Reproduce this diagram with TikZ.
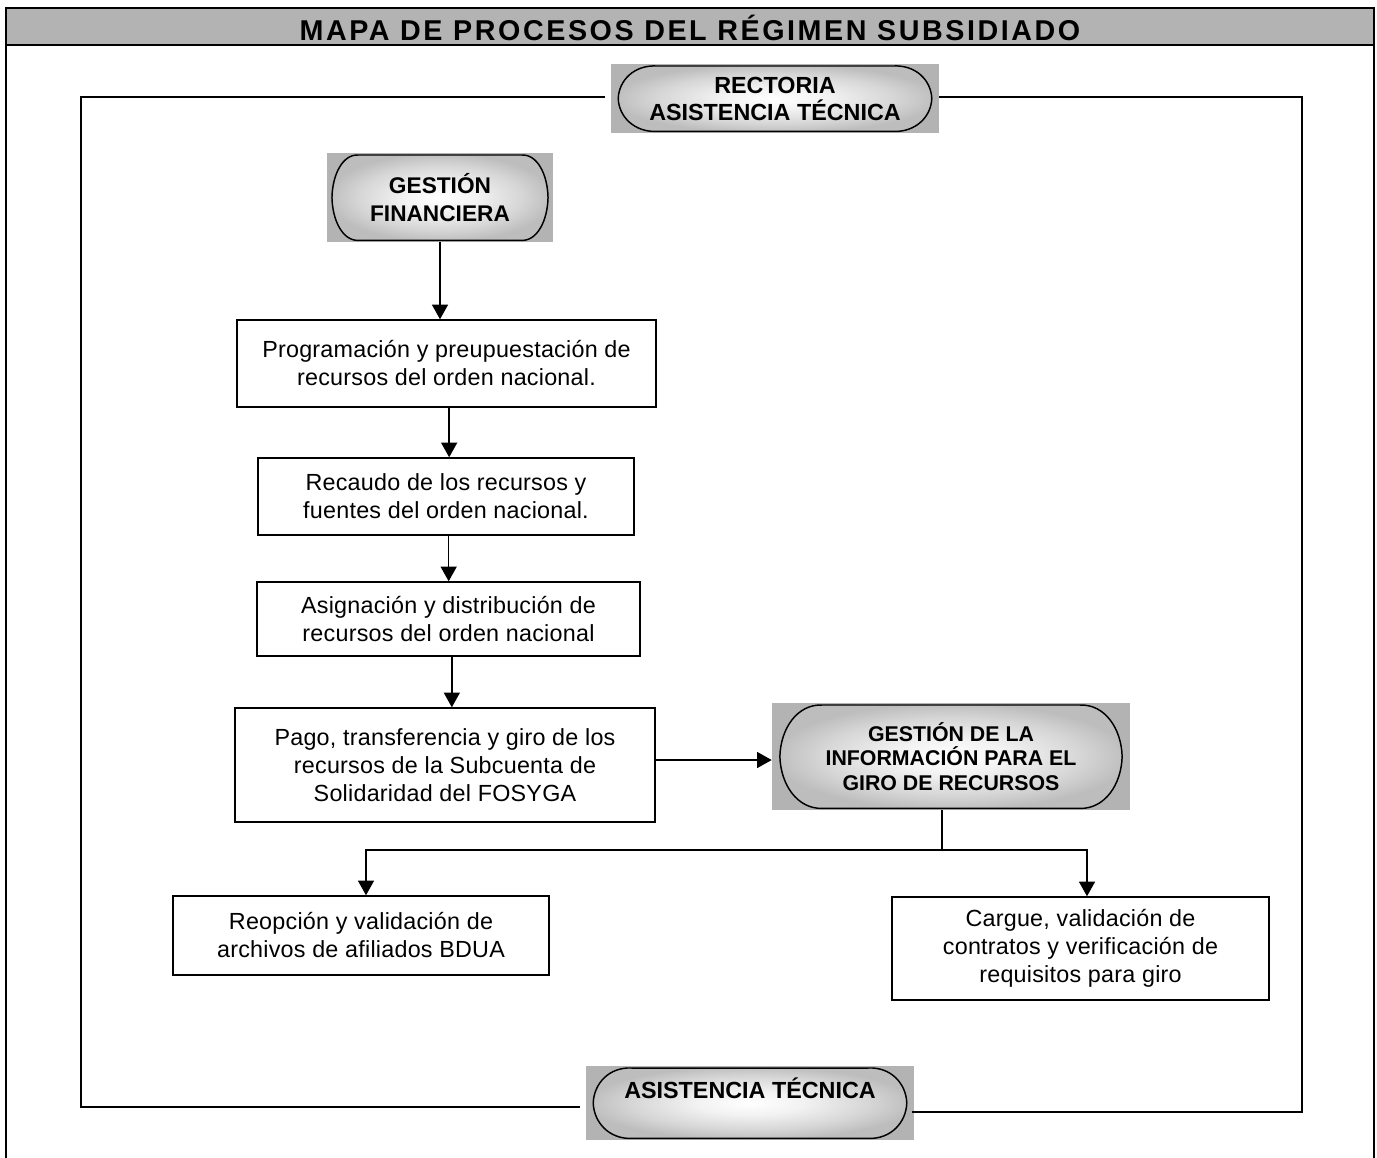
\documentclass[tikz,border=0pt]{standalone}
\usepackage{fontspec}
\setmainfont{Liberation Sans}
\newfontfamily\bodyfont[LetterSpace=1]{Liberation Sans}
\newfontfamily\titlefont[LetterSpace=9]{Liberation Sans}
\newfontfamily\termfont{Liberation Sans}
\usetikzlibrary{arrows.meta,calc}

\definecolor{hdrgray}{HTML}{B3B3B3}
\definecolor{termgray}{HTML}{B3B3B3}

% soft radial fill for the terminator outlines
\pgfdeclareradialshading{ovalshade}{\pgfpoint{0bp}{0bp}}{%
  color(0bp)=(white);
  color(8bp)=(white!95!black);
  color(18bp)=(white!84!black);
  color(25bp)=(white!74!black);
  color(50bp)=(white!74!black)}

\begin{document}
\begin{tikzpicture}[x=0.75pt,y=-0.75pt,
  frameline/.style={line width=1.6pt},
  loopline/.style={line width=1.1pt},
  link/.style={line width=1.1pt},
  arr/.style={line width=1.1pt,-{Triangle[length=11pt,width=12pt]}},
  stepbox/.style={draw,line width=1.1pt,align=center,inner sep=0pt,
    font=\fontsize{17.5}{21}\bodyfont},
  % grey block holding a shaded terminator outline
  term/.style={fill=termgray,inner sep=0pt,align=center,
    path picture={
      \shadedraw[shading=ovalshade,line width=1.1pt]
        let \p1=(path picture bounding box.south west),
            \p2=(path picture bounding box.north east),
            \n1={\x2-\x1}, \n2={\y2-\y1} in
        ({\x1+0.14*\n1},{\y2-1.5pt}) -- ({\x2-0.14*\n1},{\y2-1.5pt})
        .. controls ({\x2-0.07*\n1},{\y2-0.01*\n2}) and ({\x2-0.024*\n1},{\y2-0.24*\n2})
        .. ({\x2-0.022*\n1},{\y1+0.5*\n2})
        .. controls ({\x2-0.024*\n1},{\y1+0.24*\n2}) and ({\x2-0.07*\n1},{\y1+0.01*\n2})
        .. ({\x2-0.14*\n1},{\y1+1.2pt}) -- ({\x1+0.14*\n1},{\y1+1.2pt})
        .. controls ({\x1+0.07*\n1},{\y1+0.01*\n2}) and ({\x1+0.024*\n1},{\y1+0.24*\n2})
        .. ({\x1+0.022*\n1},{\y1+0.5*\n2})
        .. controls ({\x1+0.024*\n1},{\y2-0.24*\n2}) and ({\x1+0.07*\n1},{\y2-0.01*\n2})
        .. ({\x1+0.14*\n1},{\y2-1.5pt}) -- cycle;
    }},
]
\useasboundingbox (0,0) rectangle (1377,1157);

% page frame and title band
\fill[hdrgray] (6,8) rectangle (1374,45);
\draw[frameline] (6,1160) -- (6,8) -- (1374,8) -- (1374,1160);
\draw[frameline] (6,45) -- (1374,45);
\node[font=\fontsize{21.5}{24}\titlefont\bfseries] (title) at (690,28)
  {MAPA DE PROCESOS DEL RÉGIMEN SUBSIDIADO};

% terminators
\node[term,minimum width=246pt,minimum height=51.75pt,
  font=\fontsize{17.5}{20.25}\termfont\bfseries] (t1) at (775,98.5)
  {RECTORIA\\ASISTENCIA TÉCNICA};
\node[term,minimum width=169.5pt,minimum height=66.75pt,
  font=\fontsize{17}{21}\termfont\bfseries] (t2) at (440,197.5)
  {GESTIÓN\\FINANCIERA};
\node[term,minimum width=268.5pt,minimum height=80.25pt,
  font=\fontsize{16}{18.4}\termfont\bfseries] (t3) at (951,756.5)
  {GESTIÓN DE LA\\INFORMACIÓN PARA EL\\GIRO DE RECURSOS};
\node[term,minimum width=246pt,minimum height=55.5pt,
  font=\fontsize{17.5}{20.25}\termfont\bfseries] (t4) at (750,1103)
  {\raisebox{3.5pt}[0pt][0pt]{ASISTENCIA TÉCNICA}};

% process steps
\node[stepbox,minimum width=314.25pt,minimum height=65.25pt] (b1) at (446.5,363.5)
  {Programación y preupuestación de\\recursos del orden nacional.};
\node[stepbox,minimum width=282pt,minimum height=57.75pt] (b2) at (446,496.5)
  {Recaudo de los recursos y\\fuentes del orden nacional.};
\node[stepbox,minimum width=287.25pt,minimum height=55.5pt] (b3) at (448.5,619)
  {Asignación y distribución de\\recursos del orden nacional};
\node[stepbox,minimum width=315pt,minimum height=85.5pt] (b4) at (445,765)
  {Pago, transferencia y giro de los\\recursos de la Subcuenta de\\Solidaridad del FOSYGA};
\node[stepbox,minimum width=282pt,minimum height=59.25pt] (b5) at (361,935.5)
  {Reopción y validación de\\archivos de afiliados BDUA};
\node[stepbox,minimum width=282.75pt,minimum height=77.25pt] (b6) at (1080.5,948.5)
  {Cargue, validación de\\contratos y verificación de\\requisitos para giro};

% outer loop linking the two technical-assistance terminators
\coordinate (cTL) at (81,97);
\coordinate (cBL) at (81,1107);
\coordinate (cTR) at (1302,97);
\coordinate (cBR) at (1302,1112);
\draw[loopline,shorten <=4.5pt,shorten >=4.5pt]
  (t1.west |- cTL) -- (cTL) -- (cBL) -- (t4.west |- cBL);
\draw[loopline,shorten >=-2pt]
  (t1.east |- cTR) -- (cTR) -- (cBR) -- (t4.east |- cBR);

% main flow
\draw[arr] (t2.south) -- (t2.south |- b1.north);
\draw[arr] ([xshift=2pt]b1.south) -- ([xshift=2pt]b1.south |- b2.north);
\draw[arr] ([xshift=2pt]b2.south) -- ([xshift=2pt]b2.south |- b3.north);
\draw[arr] ([xshift=2.5pt]b3.south) -- ([xshift=2.5pt]b3.south |- b4.north);
\draw[arr] ([yshift=3.75pt]b4.east) -- ([yshift=3.75pt]b4.east -| t3.west);

% split towards the two validation steps
\coordinate (split) at (942,850);
\coordinate (jl) at (366,850);
\coordinate (jr) at (1087,850);
\draw[link] (t3.south -| split) -- (split);
\draw[arr] (split) -- (jl) -- (jl |- b5.north);
\draw[arr] (split) -- (jr) -- (jr |- b6.north);
\end{tikzpicture}
\end{document}
